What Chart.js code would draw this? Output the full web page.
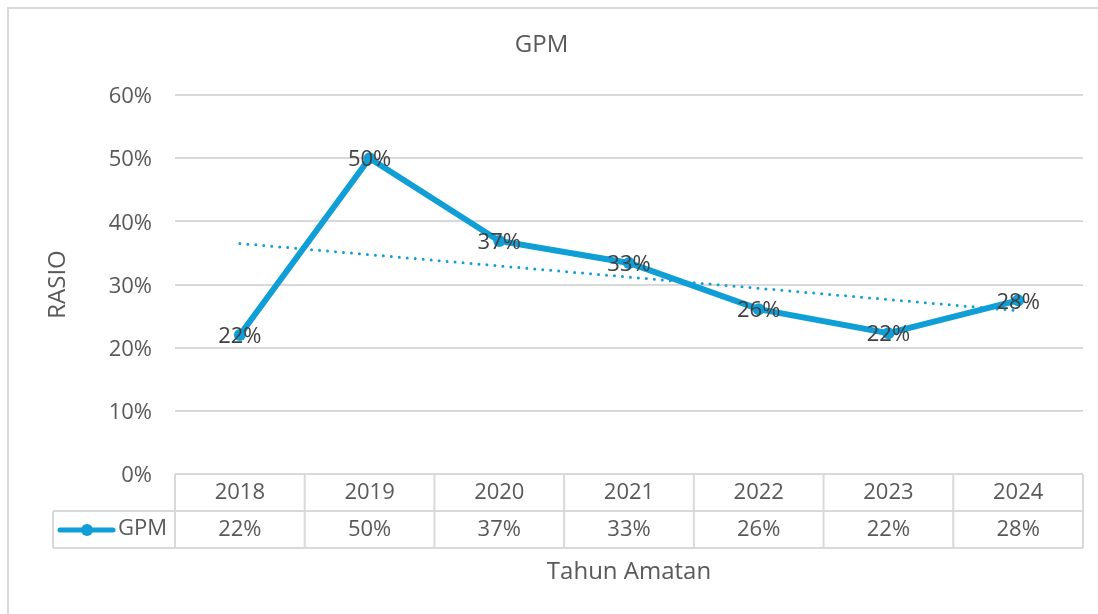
<!DOCTYPE html>
<html>
<head>
<meta charset="utf-8">
<script src="https://cdn.jsdelivr.net/npm/chart.js@4.4.1/dist/chart.umd.min.js"></script>
<style>
    html, body { margin: 0; padding: 0; background: #fff; }
    #wrap { width: 1098px; height: 614px; }
</style>
</head>
<body>
<div id="wrap"><canvas id="gpmChart" width="1098" height="614"></canvas></div>
<script>
const years = ['2018', '2019', '2020', '2021', '2022', '2023', '2024'];
const gpmValues = [0.22, 0.50, 0.369, 0.334, 0.261, 0.223, 0.275];
const yTicks = [0, 0.1, 0.2, 0.3, 0.4, 0.5, 0.6];
const seriesName = 'GPM';

const blue = '#0F9ED5';
const textGray = '#595959';
const lineGray = '#d9d9d9';
const fontFamily = "'Open Sans', sans-serif";

const pct = (v) => Math.round(v * 100) + '%';

// linear trendline like excel, fitted on the series
function linearTrend(values) {
    const n = values.length;
    let sx = 0, sy = 0, sxy = 0, sxx = 0;
    values.forEach((v, i) => { sx += i; sy += v; sxy += i * v; sxx += i * i; });
    const slope = (n * sxy - sx * sy) / (n * sxx - sx * sx);
    const icpt = (sy - slope * sx) / n;
    return values.map((v, i) => icpt + slope * i);
}

const frameBorder = {
    id: 'frameBorder',
    beforeDraw(chart) {
        const ctx = chart.ctx;
        ctx.save();
        ctx.strokeStyle = lineGray;
        ctx.lineWidth = 2;
        ctx.strokeRect(8, 8, 1200, 800);
        ctx.restore();
    }
};

const pointLabels = {
    id: 'pointLabels',
    afterDatasetsDraw(chart) {
        const ctx = chart.ctx;
        const meta = chart.getDatasetMeta(0);
        ctx.save();
        ctx.font = '22px ' + fontFamily;
        ctx.fillStyle = '#404040';
        ctx.textAlign = 'center';
        ctx.textBaseline = 'middle';
        meta.data.forEach((pt, i) => {
            ctx.fillText(pct(gpmValues[i]), pt.x, pt.y + 2);
        });
        ctx.restore();
    }
};

const dataTable = {
    id: 'dataTable',
    afterDraw(chart) {
        const ctx = chart.ctx;
        const area = chart.chartArea;
        const top = area.bottom;
        const mid = 511;
        const bot = 548;
        const keyLeft = 53;
        const step = (area.right - area.left) / years.length;

        ctx.save();
        ctx.strokeStyle = lineGray;
        ctx.lineWidth = 2;
        ctx.beginPath();
        ctx.moveTo(area.left, top); ctx.lineTo(area.right, top);
        ctx.moveTo(keyLeft, mid); ctx.lineTo(area.right, mid);
        ctx.moveTo(keyLeft, bot); ctx.lineTo(area.right, bot);
        ctx.moveTo(keyLeft, mid); ctx.lineTo(keyLeft, bot);
        for (let i = 0; i <= years.length; i++) {
            const x = area.left + step * i;
            ctx.moveTo(x, top); ctx.lineTo(x, bot);
        }
        ctx.stroke();

        ctx.font = '22px ' + fontFamily;
        ctx.fillStyle = textGray;
        ctx.textAlign = 'center';
        ctx.textBaseline = 'middle';
        gpmValues.forEach((v, i) => {
            ctx.fillText(pct(v), chart.scales.x.getPixelForValue(i), 530);
        });

        // legend key
        ctx.strokeStyle = blue;
        ctx.lineWidth = 5;
        ctx.lineCap = 'round';
        ctx.beginPath();
        ctx.moveTo(60, 530); ctx.lineTo(113, 530);
        ctx.stroke();
        ctx.fillStyle = blue;
        ctx.beginPath();
        ctx.arc(87, 530, 6, 0, Math.PI * 2);
        ctx.fill();
        ctx.fillStyle = textGray;
        ctx.textAlign = 'left';
        ctx.fillText(seriesName, 118, 529);
        ctx.restore();
    }
};

Chart.defaults.font.family = fontFamily;
Chart.defaults.color = textGray;

const ctx = document.getElementById('gpmChart').getContext('2d');
const gpmChart = new Chart(ctx, {
    type: 'line',
    plugins: [frameBorder, pointLabels, dataTable],
    data: {
        labels: years,
        datasets: [
            {
                label: seriesName,
                data: gpmValues,
                borderColor: blue,
                backgroundColor: blue,
                borderWidth: 6,
                pointRadius: 6,
                pointBackgroundColor: blue,
                pointBorderWidth: 0,
                tension: 0,
                order: 2
            },
            {
                label: 'Linear (GPM)',
                data: linearTrend(gpmValues),
                borderColor: blue,
                borderWidth: 3,
                borderDash: [0, 8],
                borderCapStyle: 'round',
                pointRadius: 0,
                fill: false,
                order: 1
            }
        ]
    },
    options: {
        responsive: false,
        animation: false,
        layout: {
            padding: { left: 0, right: 15, top: 0, bottom: 0 }
        },
        plugins: {
            legend: { display: false },
            tooltip: { enabled: false },
            title: {
                display: true,
                text: 'GPM',
                color: textGray,
                font: { size: 24, weight: 'normal' },
                padding: { top: 30.6, bottom: 35.6 }
            }
        },
        scales: {
            x: {
                offset: true,
                grid: { display: false },
                border: { display: false },
                ticks: {
                    color: textGray,
                    padding: -2,
                    font: { size: 22 }
                },
                title: {
                    display: true,
                    text: 'Tahun Amatan',
                    color: textGray,
                    font: { size: 24 },
                    padding: { top: 0, bottom: 27.6 }
                },
                afterFit(scale) { scale.height = 140; }
            },
            y: {
                min: 0,
                max: 0.6,
                afterBuildTicks(scale) {
                    scale.ticks = yTicks.map(v => ({ value: v }));
                },
                grid: {
                    color: lineGray,
                    lineWidth: 2,
                    drawTicks: false
                },
                border: { display: false },
                ticks: {
                    color: textGray,
                    padding: 23,
                    labelOffset: 2,
                    font: { size: 22 },
                    callback: (v) => pct(v)
                },
                title: {
                    display: true,
                    text: 'RASIO',
                    color: textGray,
                    font: { size: 24 },
                    padding: { top: 43.6, bottom: 0 }
                },
                afterFit(scale) { scale.width = 175; }
            }
        }
    }
});
</script>
</body>
</html>
